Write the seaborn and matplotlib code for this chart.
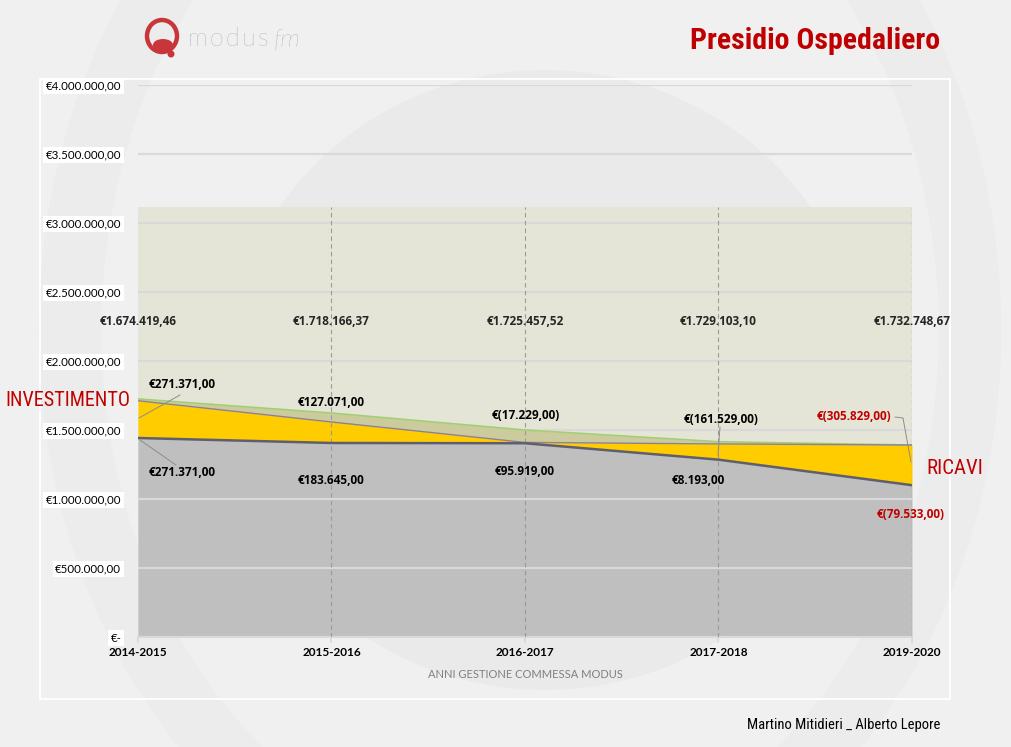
import numpy as np
import pandas as pd
import matplotlib
matplotlib.use("Agg")
import matplotlib.pyplot as plt
from matplotlib.patches import Ellipse, Rectangle
from matplotlib import font_manager
import seaborn as sns

# ---------------- data ----------------
categories = ["2014-2015", "2015-2016", "2016-2017", "2017-2018", "2019-2020"]
pale_top = [3115000, 3115000, 3115000, 3115000, 3115000]
grey_top = [1442000, 1406000, 1404000, 1285000, 1100000]      # RICAVI
yellow_top = [1712000, 1558000, 1410000, 1399000, 1391000]    # INVESTIMENTO
green_top = [1725000, 1623000, 1500000, 1415000, 1391000]
total_labels = ["€1.674.419,46", "€1.718.166,37", "€1.725.457,52", "€1.729.103,10", "€1.732.748,67"]
inv_labels = ["€271.371,00", "€127.071,00", "€(17.229,00)", "€(161.529,00)", "€(305.829,00)"]
ric_labels = ["€271.371,00", "€183.645,00", "€95.919,00", "€8.193,00", "€(79.533,00)"]
ytick_vals = [0, 500000, 1000000, 1500000, 2000000, 2500000, 3000000, 3500000, 4000000]
ytick_labels = ["€-", "€500.000,00", "€1.000.000,00", "€1.500.000,00", "€2.000.000,00",
                "€2.500.000,00", "€3.000.000,00", "€3.500.000,00", "€4.000.000,00"]

sns.set_theme(style="white")
plt.rcParams['font.family'] = ['Lato', 'DejaVu Sans']

names = {f.name for f in font_manager.fontManager.ttflist}
cond_list = [n for n in ['Liberation Sans Narrow', 'Arial Narrow', 'Roboto Condensed', 'DejaVu Sans'] if n in names]
narrow = cond_list + ['DejaVu Sans']
label_font = ['Open Sans', 'DejaVu Sans']

W, H = 1012, 747
BG = '#F0F0F0'
RED = '#C00000'
fig = plt.figure(figsize=(W / 100, H / 100), dpi=100, facecolor=BG)

def fx(px):
    return px / W

def fy(py):
    return 1 - py / H

# background swirl (decoration)
fig.add_artist(Ellipse((fx(545), fy(380)), 2 * 320 / W, 2 * 310 / H,
                       transform=fig.transFigure, color='#EAEAEA', lw=0, zorder=-5))
fig.add_artist(Ellipse((fx(520), fy(330)), 2 * 450 / W, 2 * 560 / H, transform=fig.transFigure,
                       facecolor='none', edgecolor='#ECECEC', lw=45, zorder=-6))

# chart frame
fig.add_artist(Rectangle((fx(40), fy(699)), (950 - 40) / W, (699 - 79) / H, transform=fig.transFigure,
                         facecolor='none', edgecolor='white', lw=1.3, zorder=-1))

ax = fig.add_axes([fx(138), fy(637), (912 - 138) / W, (637 - 85) / H])
ax.patch.set_alpha(0)
x = np.arange(len(categories))
ax.set_xlim(0, len(categories) - 1)
ax.set_ylim(0, 4000000)

ax.fill_between(x, 0, pale_top, color='#E5E5D7', lw=0, zorder=1)
ax.fill_between(x, 0, grey_top, color='#BFBFBF', lw=0, zorder=1.1)
ax.fill_between(x, yellow_top, green_top, color='#CBCB9E', lw=0, zorder=2)
ax.fill_between(x, grey_top, yellow_top, color='#FFCC00', lw=0, zorder=2.1)

ax.set_axisbelow('line')
ax.set_yticks(ytick_vals)
ax.set_yticklabels(ytick_labels)
ax.yaxis.grid(True, color='#D9D9D9', lw=1.6)
ax.xaxis.grid(False)

ax.vlines(x[1:-1], 0, pale_top[1:-1], colors='#9A9A9A', linestyles=(0, (4, 3)), lw=0.8, zorder=3)
ax.vlines(x[-1:], 0, pale_top[-1:], colors='#3A4E7A', linestyles=(0, (4, 3)), lw=0.8, zorder=3)

df = pd.DataFrame({"x": x, "grey": grey_top, "yellow": yellow_top, "green": green_top})
sns.lineplot(data=df, x="x", y="green", color='#A3CF74', lw=1.2, ax=ax, zorder=4)
sns.lineplot(data=df, x="x", y="yellow", color='#8F8190', lw=1.0, ax=ax, zorder=4)
sns.lineplot(data=df, x="x", y="grey", color='#5E5E6E', lw=1.8, ax=ax, zorder=4)

ax.set_xticks(x)
ax.set_xticklabels(categories, fontweight='bold', fontsize=8.5, color='black')
ax.tick_params(axis='x', length=4, color='#D9D9D9', pad=3, bottom=True)
ax.tick_params(axis='y', length=0, pad=12, labelsize=8.3, colors='black')
for lab in ax.get_yticklabels():
    lab.set_bbox(dict(facecolor='white', edgecolor='none', pad=2))
ax.set_xlabel("ANNI GESTIONE COMMESSA MODUS", fontsize=8, color='#808080', labelpad=8)
ax.set_ylabel("")
for s in ['top', 'right', 'left']:
    ax.spines[s].set_visible(False)
ax.spines['bottom'].set_color('#D9D9D9')
ax.spines['bottom'].set_linewidth(1.5)

def dx(px):
    return (px - 138) / 193.5

def dy(py):
    return (637 - py) / 138 * 1e6

LFS = 8.5
# data labels
for i, t in enumerate(total_labels):
    ax.text(x[i], dy(322), t, ha='center', va='center', fontsize=LFS, fontweight='bold', zorder=6,
            family=label_font, clip_on=False)

inv_pos = [(182, 385), (331, 403), (526, 416), (721, 420), (854, 417)]
for i, t in enumerate(inv_labels):
    c = RED if i == len(inv_labels) - 1 else 'black'
    ax.text(dx(inv_pos[i][0]), dy(inv_pos[i][1]), t, ha='center', va='center', fontsize=LFS,
            fontweight='bold', color=c, zorder=6, family=label_font)

ric_pos = [(182, 473), (331, 481), (525, 472), (698, 480), (911, 514)]
for i, t in enumerate(ric_labels):
    c = RED if i == len(ric_labels) - 1 else 'black'
    ax.text(dx(ric_pos[i][0]), dy(ric_pos[i][1]), t, ha='center', va='center', fontsize=LFS,
            fontweight='bold', color=c, zorder=6, family=label_font, clip_on=False)

# leader lines
lc = '#8C8C8C'
ax.plot([dx(180), dx(139)], [dy(395), dy(418)], color=lc, lw=0.7, zorder=5)
ax.plot([dx(176), dx(140)], [dy(465), dy(440)], color=lc, lw=0.7, zorder=5)
ax.plot([dx(720), dx(718)], [dy(427), dy(455)], color=lc, lw=0.7, zorder=5)
ax.plot([dx(895), dx(903), dx(911)], [dy(417), dy(418), dy(462)], color=lc, lw=0.7, zorder=5, clip_on=False)

# side labels
fig.text(fx(5), fy(401), "INVESTIMENTO", fontsize=14.5, color=RED, family=narrow, fontstretch='condensed',
         ha='left', va='center')
fig.text(fx(926), fy(468), "RICAVI", fontsize=15, color=RED, family=narrow, fontstretch='condensed',
         ha='left', va='center')

# title and header
fig.text(fx(940), fy(41), "Presidio Ospedaliero", fontsize=21.5, fontweight='bold', color=RED,
         family=narrow, fontstretch='condensed', ha='right', va='center')
logo_letters = ["m", "o", "d", "u", "s"]
logo_px = [188, 210, 226, 242, 258]
for ch, px in zip(logo_letters, logo_px):
    fig.text(fx(px), fy(39), ch, fontsize=18, color='#8A8A8A', ha='left', va='center', fontweight='light')
fig.text(fx(274), fy(39), "fm", fontsize=18, color='#8A8A8A', ha='left', va='center', style='italic',
         fontweight='light')
# logo icon
fig.add_artist(Ellipse((fx(162), fy(36)), 30 / W, 32 / H, transform=fig.transFigure,
                       facecolor='none', edgecolor='#C8353A', lw=3.2))
fig.add_artist(Ellipse((fx(163), fy(45)), 20 / W, 12 / H, transform=fig.transFigure,
                       facecolor='#C8353A', edgecolor='none'))
fig.add_artist(Ellipse((fx(171), fy(54)), 7 / W, 7 / H, transform=fig.transFigure,
                       facecolor='#C8353A', edgecolor='none'))

# footer
fig.text(fx(940), fy(725), "Martino Mitidieri _ Alberto Lepore", fontsize=10.5, color='black',
         family=narrow, fontstretch='condensed', ha='right', va='center')

fig.savefig("out.png", dpi=100, facecolor=BG)
